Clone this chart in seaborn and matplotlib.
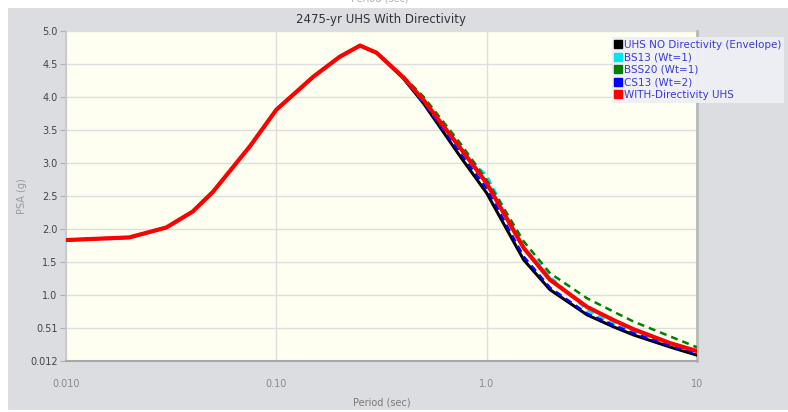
import numpy as np
import pandas as pd
import matplotlib
matplotlib.use("Agg")
import matplotlib.pyplot as plt
from matplotlib.patches import Rectangle
from matplotlib.lines import Line2D
import seaborn as sns

# Spectral periods (sec)
periods = [0.01, 0.02, 0.03, 0.04, 0.05, 0.075, 0.1, 0.15, 0.2, 0.25, 0.3,
           0.4, 0.5, 0.75, 1.0, 1.5, 2.0, 3.0, 4.0, 5.0, 7.5, 10.0]
long_periods = [0.4, 0.5, 0.75, 1.0, 1.5, 2.0, 3.0, 4.0, 5.0, 7.5, 10.0]

# UHS without directivity (envelope), PSA in g
uhs_no_dir = [1.84, 1.88, 2.03, 2.27, 2.57, 3.26, 3.81, 4.31, 4.61, 4.78, 4.67,
              4.29, 3.91, 3.10, 2.55, 1.54, 1.09, 0.71, 0.53, 0.405, 0.22, 0.10]
# Directivity models
bs13 = [4.30, 3.93, 3.18, 2.82, 1.74, 1.29, 0.78, 0.58, 0.455, 0.254, 0.138]
bss20 = [4.32, 4.01, 3.30, 2.75, 1.82, 1.34, 0.96, 0.76, 0.607, 0.38, 0.219]
cs13 = [4.29, 3.92, 3.15, 2.62, 1.59, 1.12, 0.73, 0.556, 0.43, 0.239, 0.128]
# UHS with directivity
uhs_dir = [1.84, 1.88, 2.03, 2.27, 2.57, 3.26, 3.81, 4.31, 4.61, 4.78, 4.67,
           4.305, 3.96, 3.23, 2.70, 1.72, 1.24, 0.83, 0.632, 0.491, 0.279, 0.163]

legend_labels = ["UHS NO Directivity (Envelope)", "BS13 (Wt=1)", "BSS20 (Wt=1)",
                 "CS13 (Wt=2)", "WITH-Directivity UHS"]
colors = ["#000000", "#00e5ee", "#008000", "#0000ff", "#ff0000"]

x_ticks = [0.01, 0.1, 1.0, 10.0]
x_tick_labels = ["0.010", "0.10", "1.0", "10"]
y_ticks = list(np.linspace(0.012, 5.0, 11))
y_tick_labels = ["0.012", "0.51", "1.0", "1.5", "2.0", "2.5", "3.0", "3.5", "4.0", "4.5", "5.0"]

sns.set_theme(style="white")
plt.rcParams["font.family"] = ["DejaVu Sans"]

W, H = 788, 412
fig = plt.figure(figsize=(W / 100, H / 100), dpi=100, facecolor="white")

# gray panel behind the chart
fig.patches.append(Rectangle((8 / W, 2 / H), 1 - 8 / W, (H - 10) / H,
                             transform=fig.transFigure, facecolor="#dcdde1",
                             edgecolor="none", zorder=-10))

ax = fig.add_axes([66 / W, (H - 361) / H, (697 - 66) / W, (361 - 31) / H])
ax.set_facecolor("#fefff0")

dash = (0, (2.8, 2.0))
series = [
    (periods, uhs_no_dir, colors[0], "-", 2.2),
    (long_periods, bs13, colors[1], dash, 1.8),
    (long_periods, bss20, colors[2], dash, 1.8),
    (long_periods, cs13, colors[3], dash, 1.8),
    (periods, uhs_dir, colors[4], "-", 3.0),
]
for i, (xs, ys, c, ls, lw) in enumerate(series):
    df = pd.DataFrame({"Period": xs, "PSA": ys})
    sns.lineplot(data=df, x="Period", y="PSA", ax=ax, color=c, linestyle=ls,
                 linewidth=lw, zorder=3 + i, legend=False)

ax.set_xscale("log")
ax.set_xlim(0.01, 10)
ax.set_ylim(0.012, 5.0)
ax.set_xticks(x_ticks)
ax.set_xticklabels(x_tick_labels)
ax.xaxis.set_minor_locator(matplotlib.ticker.NullLocator())
ax.set_yticks(y_ticks)
ax.set_yticklabels(y_tick_labels)

ax.grid(True, which="major", color="#dedede", linewidth=1)
ax.tick_params(axis="x", length=0, pad=13, labelsize=7, labelcolor="#8a8a8a")
ax.tick_params(axis="y", left=True, length=4, width=0.8, color="#b0b0b0",
               pad=2, labelsize=7, labelcolor="#444444")

ax.spines["top"].set_visible(False)
ax.spines["left"].set_color("#c8c8c8")
ax.spines["bottom"].set_color("#a8a8a8")
ax.spines["bottom"].set_linewidth(1.5)
ax.spines["right"].set_color("#b8b8b8")
ax.spines["right"].set_linewidth(2)

ax.set_xlabel("Period (sec)", fontsize=7, color="#7a7a7a", labelpad=6)
ax.set_ylabel("PSA (g)", fontsize=7, color="#9a9a9a")
ax.yaxis.set_label_coords(-(66 - 27) / (697 - 66), 0.5)
ax.set_title("2475-yr UHS With Directivity", fontsize=8.5, color="#333333", pad=6)

# faint axis caption clipped at the very top
fig.text(380 / W, 1.0 + 1 / H, "Period (sec)", ha="center", va="center",
         fontsize=7, color="#b0b0b0")

handles = [Line2D([], [], marker="s", linestyle="none", markersize=6,
                  markerfacecolor=c, markeredgecolor=c) for c in colors]
leg = fig.legend(handles, legend_labels, loc="upper left",
                 bbox_to_anchor=(612 / W, 1 - 37 / H), frameon=True,
                 fontsize=7.5, handlelength=0.6, handletextpad=0.3,
                 labelspacing=0.25, borderpad=0.25, borderaxespad=0)
leg.get_frame().set_facecolor("#eef0f6")
leg.get_frame().set_edgecolor("none")
leg.get_frame().set_alpha(0.95)
leg.get_frame().set_boxstyle("square", pad=0)
for t in leg.get_texts():
    t.set_color("#3a3ad6")

fig.savefig("out.png", dpi=100)
